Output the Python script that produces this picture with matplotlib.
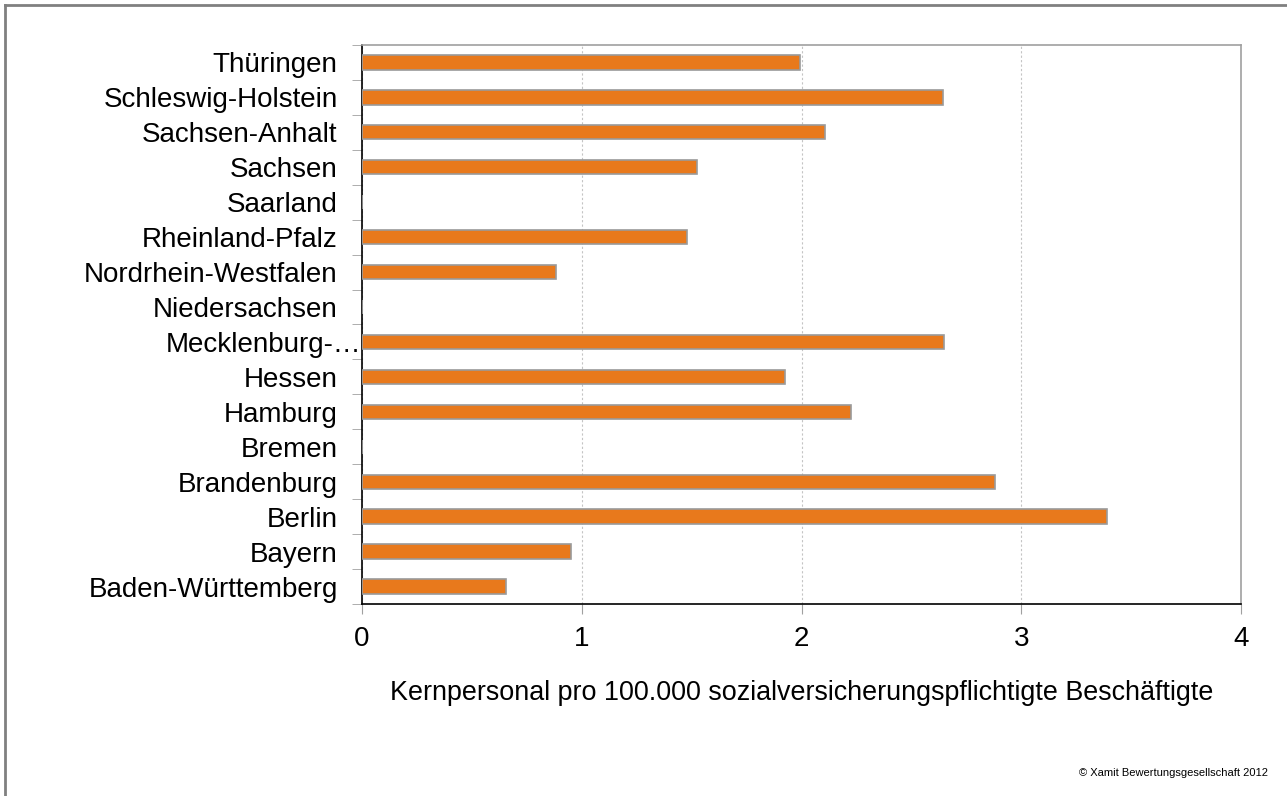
import numpy as np
import matplotlib.pyplot as plt
import matplotlib.transforms as mtransforms
from matplotlib.lines import Line2D

plt.rcParams['font.family'] = ['Liberation Sans', 'DejaVu Sans']

# Bundesländer, von unten nach oben
laender = ["Baden-Württemberg", "Bayern", "Berlin", "Brandenburg", "Bremen",
           "Hamburg", "Hessen", "Mecklenburg-…", "Niedersachsen",
           "Nordrhein-Westfalen", "Rheinland-Pfalz", "Saarland", "Sachsen",
           "Sachsen-Anhalt", "Schleswig-Holstein", "Thüringen"]
werte = [0.655, 0.951, 3.39, 2.881, 0.0, 2.225, 1.925, 2.648, 0.0,
         0.883, 1.479, 0.0, 1.524, 2.107, 2.644, 1.993]
xticks = [0, 1, 2, 3, 4]

fig = plt.figure(figsize=(12.87, 7.96), dpi=100)
ax = fig.add_axes([0.2813, 0.2412, 0.6830, 0.7023])

y = np.arange(len(laender))
ax.barh(y, werte, height=0.41, color='#E8791C', edgecolor='#9A9A9A', linewidth=1.2, zorder=3)

ax.set_xlim(0, 4)
ax.set_ylim(-0.5, len(laender) - 0.5)
ax.set_xticks(xticks)
ax.set_xticklabels([str(t) for t in xticks], fontsize=20)
ax.tick_params(axis='x', length=7, color='#A0A0A0', pad=9)

ax.set_yticks(y)
ax.set_yticklabels(laender, fontsize=20)
ax.tick_params(axis='y', which='major', length=0, pad=17.5)
ax.set_yticks(np.arange(len(laender) + 1) - 0.5, minor=True)
ax.tick_params(axis='y', which='minor', length=7, color='#A0A0A0')

# abgeschnittenes Label sitzt direkt an der Achse
lbl = ax.get_yticklabels()[laender.index("Mecklenburg-…")]
lbl.set_transform(lbl.get_transform() + mtransforms.ScaledTranslation(0.24, 0, fig.dpi_scale_trans))

ax.grid(axis='x', color='#C4C4C4', linestyle=(0, (2, 2)), linewidth=0.8, zorder=0)

ax.spines['left'].set_color('black')
ax.spines['bottom'].set_color('black')
ax.spines['top'].set_color('#A0A0A0')
ax.spines['right'].set_color('#A0A0A0')
for s in ax.spines.values():
    s.set_linewidth(1.2)

ax.set_xlabel("Kernpersonal pro 100.000 sozialversicherungspflichtigte Beschäftigte",
              fontsize=19.4, labelpad=20)

fig.text(0.9852, 0.0289, "© Xamit Bewertungsgesellschaft 2012", fontsize=8.0,
         ha='right', va='center')

# Rahmen oben und links
fig.add_artist(Line2D([0.0039, 0.0039], [0, 0.9937], color='#808080', linewidth=2))
fig.add_artist(Line2D([0.0039, 1], [0.9937, 0.9937], color='#808080', linewidth=2))

fig.savefig("out.png", dpi=100)
